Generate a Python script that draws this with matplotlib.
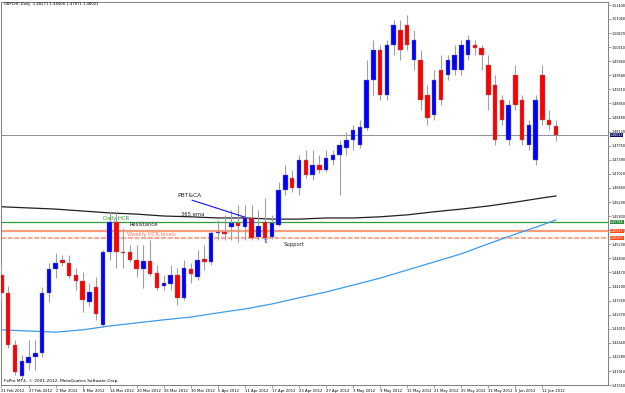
import matplotlib
matplotlib.use("Agg")
import matplotlib.pyplot as plt
import matplotlib.transforms as mtransforms

# daily GBPCHF bars, 21 Feb 2012 .. 14 Jun 2012
opens = [1.4440, 1.4394, 1.4259, 1.4178, 1.4212, 1.4228, 1.4238, 1.4394, 1.4456, 1.4479,
         1.4471, 1.4440, 1.4425, 1.4370, 1.4409, 1.4311, 1.4500, 1.4578, 1.4500, 1.4500,
         1.4479, 1.4456, 1.4477, 1.4445, 1.4412, 1.4417, 1.4440, 1.4381, 1.4456, 1.4435,
         1.4482, 1.4474, 1.4549, 1.4552, 1.4565, 1.4575, 1.4565, 1.4588, 1.4539, 1.4578,
         1.4539, 1.4570, 1.4661, 1.4692, 1.4666, 1.4738, 1.4699, 1.4725, 1.4712, 1.4738,
         1.4751, 1.4769, 1.4790, 1.4777, 1.4821, 1.4946, 1.5023, 1.4907, 1.5036, 1.5075,
         1.5088, 1.4997, 1.4997, 1.4907, 1.4855, 1.4972, 1.4959, 1.4972, 1.4972, 1.5010,
         1.5036, 1.5029, 1.4985, 1.4933, 1.4894, 1.4790, 1.4959, 1.4894, 1.4777, 1.4738,
         1.4959, 1.4842, 1.48271]
highs = [1.4466, 1.4412, 1.4272, 1.4233, 1.4272, 1.4272, 1.4409, 1.4471, 1.4497, 1.4492,
         1.4492, 1.4458, 1.4448, 1.4420, 1.4435, 1.4505, 1.4604, 1.4601, 1.4562, 1.4518,
         1.4518, 1.4518, 1.4531, 1.4466, 1.4440, 1.4466, 1.4458, 1.4479, 1.4471, 1.4505,
         1.4518, 1.4557, 1.4583, 1.4596, 1.4609, 1.4622, 1.4622, 1.4622, 1.4609, 1.4640,
         1.4596, 1.4681, 1.4725, 1.4712, 1.4751, 1.4764, 1.4764, 1.4751, 1.4764, 1.4764,
         1.4790, 1.4811, 1.4829, 1.4842, 1.4997, 1.5049, 1.5036, 1.5049, 1.5101, 1.5101,
         1.5115, 1.5075, 1.5023, 1.4933, 1.4972, 1.5010, 1.5010, 1.5036, 1.5049, 1.5062,
         1.5049, 1.5036, 1.5010, 1.4959, 1.4907, 1.4894, 1.4985, 1.4907, 1.4842, 1.4907,
         1.4985, 1.4868, 1.48408]
lows = [1.4375, 1.4251, 1.4181, 1.4171, 1.4194, 1.4194, 1.4228, 1.4370, 1.4432, 1.4464,
        1.4432, 1.4401, 1.4344, 1.4360, 1.4324, 1.4305, 1.4479, 1.4458, 1.4458, 1.4474,
        1.4435, 1.4407, 1.4438, 1.4401, 1.4401, 1.4401, 1.4362, 1.4375, 1.4420, 1.4427,
        1.4453, 1.4466, 1.4531, 1.4531, 1.4531, 1.4526, 1.4531, 1.4531, 1.4531, 1.4526,
        1.4534, 1.4567, 1.4648, 1.4655, 1.4648, 1.4692, 1.4686, 1.4705, 1.4707, 1.4725,
        1.4648, 1.4751, 1.4764, 1.4769, 1.4816, 1.4907, 1.4894, 1.4894, 1.5010, 1.4997,
        1.5023, 1.4972, 1.4868, 1.4829, 1.4842, 1.4881, 1.4946, 1.4959, 1.4959, 1.4997,
        1.5010, 1.4972, 1.4868, 1.4777, 1.4829, 1.4777, 1.4868, 1.4777, 1.4764, 1.4725,
        1.4829, 1.4816, 1.47871]
closes = [1.4394, 1.4259, 1.4189, 1.4217, 1.4228, 1.4238, 1.4394, 1.4456, 1.4471, 1.4471,
          1.4438, 1.4425, 1.4375, 1.4396, 1.4339, 1.4500, 1.4578, 1.4500, 1.4497, 1.4479,
          1.4456, 1.4477, 1.4443, 1.4407, 1.4420, 1.4440, 1.4381, 1.4458, 1.4443, 1.4479,
          1.4474, 1.4549, 1.4552, 1.4547, 1.4575, 1.4567, 1.4588, 1.4536, 1.4567, 1.4536,
          1.4575, 1.4661, 1.4699, 1.4666, 1.4738, 1.4699, 1.4725, 1.4712, 1.4743, 1.4751,
          1.4777, 1.4790, 1.4816, 1.4824, 1.4946, 1.5023, 1.4907, 1.5036, 1.5088, 1.5023,
          1.5036, 1.5049, 1.4894, 1.4847, 1.4946, 1.4894, 1.4997, 1.5010, 1.5036, 1.5049,
          1.5029, 1.5010, 1.4907, 1.4790, 1.4842, 1.4881, 1.4881, 1.4790, 1.4829, 1.4894,
          1.4842, 1.4829, 1.48021]

date_labels = ["21 Feb 2012", "27 Feb 2012", "2 Mar 2012", "8 Mar 2012", "14 Mar 2012",
               "20 Mar 2012", "26 Mar 2012", "30 Mar 2012", "5 Apr 2012", "11 Apr 2012",
               "17 Apr 2012", "23 Apr 2012", "27 Apr 2012", "3 May 2012", "9 May 2012",
               "15 May 2012", "21 May 2012", "25 May 2012", "31 May 2012", "6 Jun 2012",
               "12 Jun 2012"]
price_ticks = [1.51400, 1.51040, 1.50670, 1.50310, 1.49940, 1.49580, 1.49210, 1.48850,
               1.48480, 1.48120, 1.47750, 1.47390, 1.47020, 1.46660, 1.46290, 1.45930,
               1.45560, 1.45200, 1.44830, 1.44470, 1.44100, 1.43740, 1.43370, 1.43010,
               1.42640, 1.42280, 1.41910, 1.41550]

# moving averages read every 4 bars
ma_bars = [0, 4, 8, 12, 16, 20, 24, 28, 32, 36, 40, 44, 48, 52, 56, 60, 64, 68, 72, 76, 80, 82]
ema365 = [1.4617, 1.4614, 1.4611, 1.4606, 1.4601, 1.4598, 1.4593, 1.4591, 1.4588, 1.4588,
          1.4585, 1.4585, 1.4588, 1.4588, 1.4591, 1.4596, 1.4604, 1.4611, 1.4619, 1.4629,
          1.4640, 1.4645]
ma_blue = [1.4298, 1.4295, 1.4292, 1.4298, 1.4308, 1.4316, 1.4324, 1.4331, 1.4342, 1.4352,
           1.4365, 1.4381, 1.4396, 1.4414, 1.4432, 1.4453, 1.4474, 1.4495, 1.4521, 1.4546,
           1.4570, 1.4583]

daily_hcr = 1.45784
weekly_hcr = [1.45540, 1.45360]

fig = plt.figure(figsize=(6.25, 3.93), dpi=100)
ax = fig.add_axes([1 / 625, 8 / 393, 607 / 625, 383 / 393])

n = len(opens)
idx = list(range(n))
up = [c >= o for o, c in zip(opens, closes)]

# horizontal levels
ax.axhline(daily_hcr, color="#2e9e3a", lw=0.9, zorder=1)
ax.axhline(weekly_hcr[0], color="#ff9a7a", lw=1.6, zorder=1)
ax.axhline(weekly_hcr[1], color="#ff9a7a", lw=1.2, ls=(0, (3, 1)), zorder=1)
ax.axhline(closes[-1], color="#909090", lw=0.7, zorder=1)

# indicators
ax.plot(ma_bars, ema365, color="#202020", lw=0.9, zorder=2)
ax.plot(ma_bars, ma_blue, color="#3d9bea", lw=0.9, zorder=2)

# candles
ax.vlines(idx, lows, highs, color="#a0a0a0", lw=0.8, zorder=3)
bottoms = [min(o, c) for o, c in zip(opens, closes)]
heights = [max(abs(c - o), 0.00008) for o, c in zip(opens, closes)]
cols = ["#0000ff" if u else "#ff0000" for u in up]
ax.bar(idx, heights, bottom=bottoms, width=0.66, color=cols,
       edgecolor="#808080", linewidth=0.3, zorder=4)

# annotations
fs = 3.8
ax.text(0.3, 1.5142, "GBPCHF,Daily  1.48271 1.48408 1.47871 1.48021", fontsize=2.7,
        va="center", ha="left", color="black")
ax.text(0.3, 1.4166, "FxPro MT4, \u00a9 2001-2012, MetaQuotes Software Corp.", fontsize=3.1,
        va="center", ha="left", color="black")
ax.text(26.0, 1.4645, "PBT&CA", fontsize=4.3, ha="left", va="center", color="#222222")
ax.plot([28.2, 36.0], [1.4634, 1.4590], color="#1010ff", lw=0.8, zorder=5)
ax.text(26.5, 1.4596, "365 ema", fontsize=fs, ha="left", va="center", color="#222222")
ax.text(15.0, 1.4586, "Daily HCR", fontsize=fs, ha="left", va="center", color="#2e9e3a")
ax.text(19.0, 1.4572, "Resistance", fontsize=fs, ha="left", va="center", color="#222222")
ax.text(18.6, 1.4545, "Weekly HCR levels", fontsize=fs, ha="left", va="center", color="#f08060")
ax.text(41.8, 1.4518, "Support", fontsize=fs, ha="left", va="center", color="#222222")
ax.text(39.1, 1.4529, "\u21e7", fontsize=5, ha="center", va="center", color="#3030ff", zorder=6)
ax.text(37.1, 1.4578, "\u21e9", fontsize=5, ha="center", va="center", color="#3030ff", zorder=6)

ax.set_xlim(-0.07, 89.7)
ax.set_ylim(1.41551, 1.51478)

ax.set_xticks(range(0, 81, 4))
ax.set_xticklabels(date_labels, fontsize=2.7, ha="left")
ax.yaxis.tick_right()
ax.set_yticks(price_ticks)
ax.set_yticklabels([f"{v:.5f}" for v in price_ticks], fontsize=2.45)
ax.tick_params(axis="both", length=2, width=0.5, color="#808080", pad=0.6)
for s in ax.spines.values():
    s.set_color("#808080")
    s.set_linewidth(0.7)

# right-axis price tags
trans = mtransforms.blended_transform_factory(ax.transAxes, ax.transData)
tags = [(closes[-1], "#101060"), (daily_hcr, "#2e8b3a"),
        (weekly_hcr[0], "#ff4a1a"), (weekly_hcr[1], "#ff4a1a")]
for val, col in tags:
    ax.text(1.003, val, f"{val:.5f}", transform=trans, fontsize=2.3, color="white",
            va="center", ha="left", clip_on=False,
            bbox=dict(boxstyle="square,pad=0.04", fc=col, ec="none"))

fig.savefig("out.png", dpi=100, facecolor="white")
